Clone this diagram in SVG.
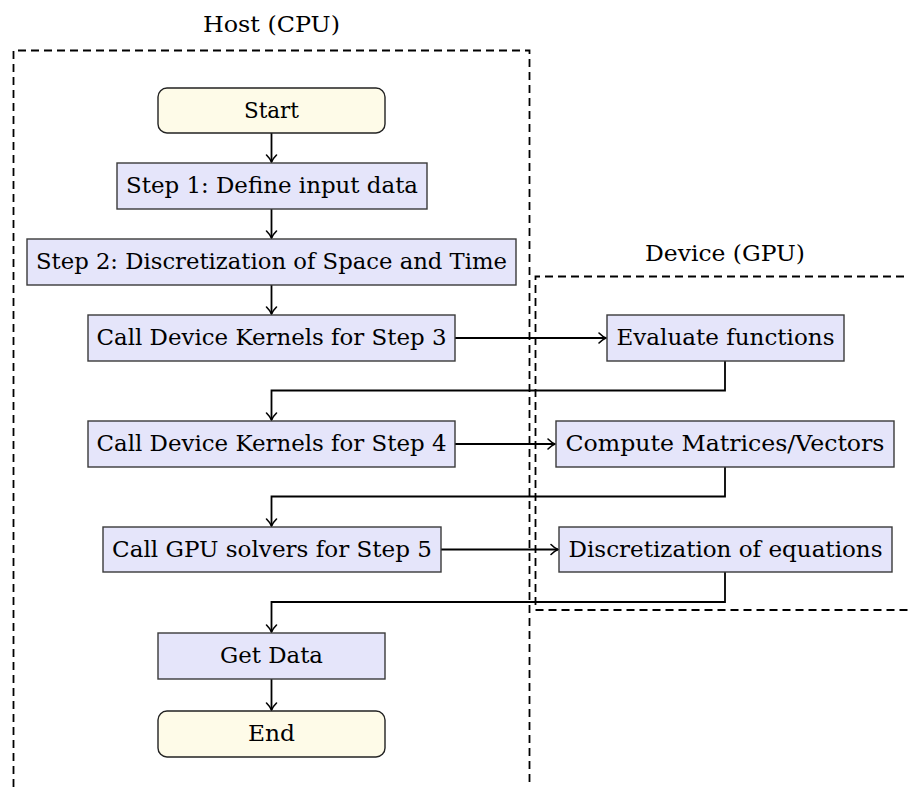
<svg xmlns="http://www.w3.org/2000/svg" width="908" height="787" viewBox="0 0 908 787">
<style>
.t{font-family:"DejaVu Serif","Liberation Serif",serif;font-size:22px;fill:#000;text-anchor:middle}
.box{fill:#E5E5FA;stroke:#3a3a3a;stroke-width:1.4}
.term{fill:#FEFBE8;stroke:#222;stroke-width:1.4}
.region{fill:none;stroke:#000;stroke-width:1.8;stroke-dasharray:8 5}
.c{fill:none;stroke:#000;stroke-width:1.8;marker-end:url(#arr)}
</style>
<defs>
<marker id="arr" markerUnits="userSpaceOnUse" viewBox="-8 -6 10 12" refX="0" refY="0" markerWidth="10" markerHeight="12" orient="auto" overflow="visible">
<path d="M-7,-5 C-4,-2 -1.4,-0.5 0,0 C-1.4,0.5 -4,2 -7,5" fill="none" stroke="#000" stroke-width="1.6" stroke-linecap="round"/>
</marker>
</defs>
<rect width="908" height="787" fill="#fff"/>
<g id="host">
<path class="region" d="M13.5,800 V50.5 H529.5 V800"/>
<text class="t" x="271.5" y="32" textLength="137" lengthAdjust="spacingAndGlyphs">Host (CPU)</text>
</g>
<g id="device">
<path class="region" d="M930,276.5 H535.5 V610 H930"/>
<text class="t" x="725" y="261" textLength="160" lengthAdjust="spacingAndGlyphs">Device (GPU)</text>
</g>
<g id="connectors">
<path class="c" d="M271.5,133 V162"/>
<path class="c" d="M271.5,209 V238"/>
<path class="c" d="M271.5,285 V314"/>
<path class="c" d="M455,338 H606"/>
<path class="c" d="M725,361 V390.5 H271.5 V420"/>
<path class="c" d="M455,444 H555"/>
<path class="c" d="M725,467 V496.5 H271.5 V526"/>
<path class="c" d="M441,549.5 H558"/>
<path class="c" d="M725,572 V602 H271.5 V632"/>
<path class="c" d="M271.5,679 V710"/>
</g>
<g id="start">
<rect class="term" x="158" y="88" width="227" height="45" rx="9"/>
<text class="t" x="271.5" y="118" textLength="55" lengthAdjust="spacingAndGlyphs">Start</text>
</g>
<g id="step1">
<rect class="box" x="117" y="163" width="310" height="46"/>
<text class="t" x="272" y="193" textLength="292" lengthAdjust="spacingAndGlyphs">Step 1: Define input data</text>
</g>
<g id="step2">
<rect class="box" x="27" y="239" width="489" height="46"/>
<text class="t" x="271.5" y="269" textLength="471" lengthAdjust="spacingAndGlyphs">Step 2: Discretization of Space and Time</text>
</g>
<g id="call3">
<rect class="box" x="88" y="315" width="367" height="46"/>
<text class="t" x="271.5" y="345" textLength="350" lengthAdjust="spacingAndGlyphs">Call Device Kernels for Step 3</text>
</g>
<g id="evaluate">
<rect class="box" x="607" y="315" width="237" height="46"/>
<text class="t" x="725.5" y="345" textLength="218" lengthAdjust="spacingAndGlyphs">Evaluate functions</text>
</g>
<g id="call4">
<rect class="box" x="88" y="421" width="367" height="46"/>
<text class="t" x="271.5" y="451" textLength="350" lengthAdjust="spacingAndGlyphs">Call Device Kernels for Step 4</text>
</g>
<g id="compute">
<rect class="box" x="556" y="421" width="338" height="46"/>
<text class="t" x="725" y="451" textLength="319" lengthAdjust="spacingAndGlyphs">Compute Matrices/Vectors</text>
</g>
<g id="call5">
<rect class="box" x="103" y="527" width="338" height="45"/>
<text class="t" x="272" y="556.5" textLength="320" lengthAdjust="spacingAndGlyphs">Call GPU solvers for Step 5</text>
</g>
<g id="discretization">
<rect class="box" x="559" y="527" width="333" height="45"/>
<text class="t" x="725.5" y="556.5" textLength="314" lengthAdjust="spacingAndGlyphs">Discretization of equations</text>
</g>
<g id="getdata">
<rect class="box" x="158" y="633" width="227" height="46"/>
<text class="t" x="271.5" y="663" textLength="103" lengthAdjust="spacingAndGlyphs">Get Data</text>
</g>
<g id="end">
<rect class="term" x="158" y="711" width="227" height="46" rx="9"/>
<text class="t" x="271.5" y="741" textLength="47" lengthAdjust="spacingAndGlyphs">End</text>
</g>
</svg>
